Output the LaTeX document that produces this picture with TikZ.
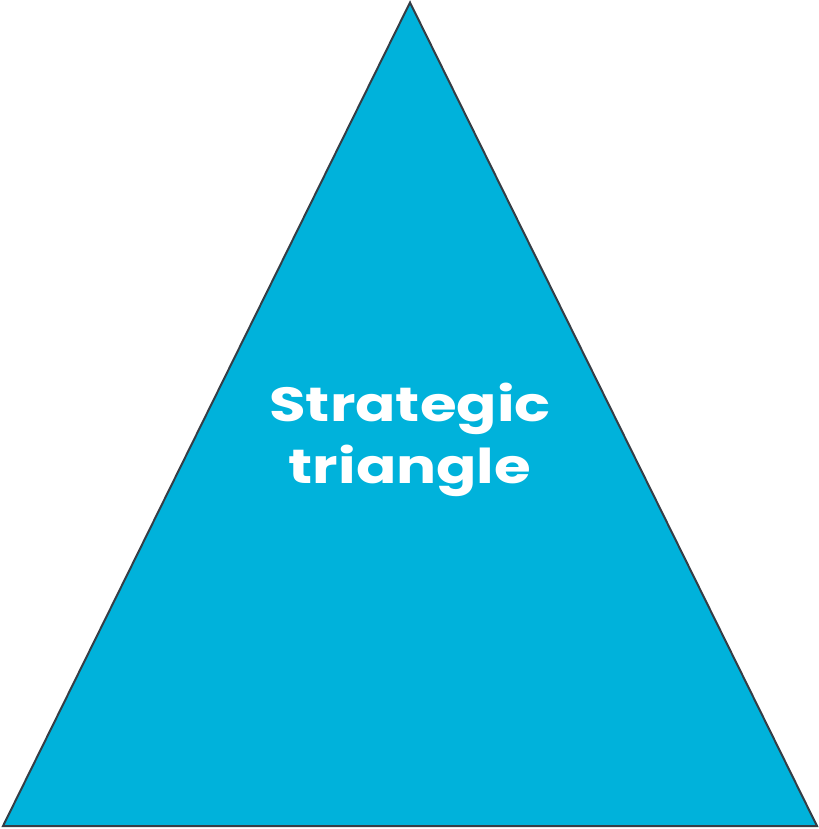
\documentclass[tikz,border=0pt]{standalone}
\usepackage{fontspec}
\setmainfont{Poppins}
\newfontfamily\widefont[FakeStretch=1.24]{Poppins}
\definecolor{trifill}{HTML}{00B2DB}
\definecolor{tristroke}{HTML}{363D45}
\begin{document}
\begin{tikzpicture}[x=1bp,y=-1bp,
  tri/.style={fill=trifill,draw=tristroke,line width=2bp,line join=miter},
  label/.style={text=white,font=\widefont\fontsize{48bp}{62bp}\selectfont\bfseries,align=center,inner sep=0pt}]
\useasboundingbox (0,0) rectangle (819,829);
\coordinate (apex) at (410,2.5);
\coordinate (bl) at (3,826);
\coordinate (br) at (817,826);
\draw[tri] (apex) -- (br) -- (bl) -- cycle;
\node[label,anchor=base] (t1) at (410,421) {Strategic};
\node[label,anchor=base] (t2) at (410,483) {triangle};
\end{tikzpicture}
\end{document}
